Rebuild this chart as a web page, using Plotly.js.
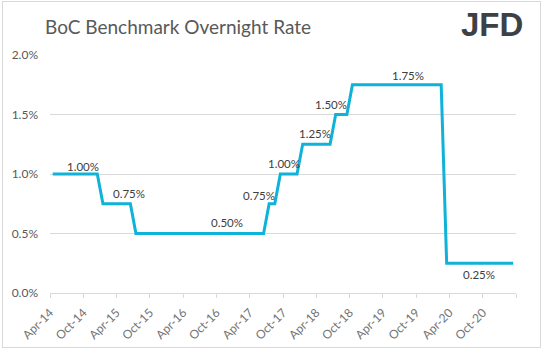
<!DOCTYPE html>
<html>
<head>
<meta charset="utf-8">
<script src="https://cdn.plot.ly/plotly-3.0.1.min.js"></script>
<style>
  html, body { margin: 0; padding: 0; background: #ffffff; }
  #wrap { position: relative; width: 544px; height: 351px; }
  #chart { width: 544px; height: 351px; }
  #frame { position: absolute; left: 2px; top: 1px; width: 537px; height: 345px;
           border: 1px solid #d9d9d9; pointer-events: none; }
</style>
</head>
<body>
<div id="wrap"><div id="chart"></div><div id="frame"></div></div>
<script>
// ---- data (monthly, month-end policy rate, %) ----
const months = [
  '2014-04','2014-05','2014-06','2014-07','2014-08','2014-09','2014-10','2014-11','2014-12',
  '2015-01','2015-02','2015-03','2015-04','2015-05','2015-06','2015-07','2015-08','2015-09','2015-10','2015-11','2015-12',
  '2016-01','2016-02','2016-03','2016-04','2016-05','2016-06','2016-07','2016-08','2016-09','2016-10','2016-11','2016-12',
  '2017-01','2017-02','2017-03','2017-04','2017-05','2017-06','2017-07','2017-08','2017-09','2017-10','2017-11','2017-12',
  '2018-01','2018-02','2018-03','2018-04','2018-05','2018-06','2018-07','2018-08','2018-09','2018-10','2018-11','2018-12',
  '2019-01','2019-02','2019-03','2019-04','2019-05','2019-06','2019-07','2019-08','2019-09','2019-10','2019-11','2019-12',
  '2020-01','2020-02','2020-03','2020-04','2020-05','2020-06','2020-07','2020-08','2020-09','2020-10','2020-11','2020-12',
  '2021-01','2021-02','2021-03'
];
const rates = [
  1.00,1.00,1.00,1.00,1.00,1.00,1.00,1.00,1.00,
  0.75,0.75,0.75,0.75,0.75,0.75,0.50,0.50,0.50,0.50,0.50,0.50,
  0.50,0.50,0.50,0.50,0.50,0.50,0.50,0.50,0.50,0.50,0.50,0.50,
  0.50,0.50,0.50,0.50,0.50,0.50,0.75,0.75,1.00,1.00,1.00,1.00,
  1.25,1.25,1.25,1.25,1.25,1.25,1.50,1.50,1.50,1.75,1.75,1.75,
  1.75,1.75,1.75,1.75,1.75,1.75,1.75,1.75,1.75,1.75,1.75,1.75,
  1.75,1.75,0.25,0.25,0.25,0.25,0.25,0.25,0.25,0.25,0.25,0.25,
  0.25,0.25,0.25
];
const tickDates = ['2014-04-01','2014-10-01','2015-04-01','2015-10-01','2016-04-01','2016-10-01',
  '2017-04-01','2017-10-01','2018-04-01','2018-10-01','2019-04-01','2019-10-01','2020-04-01','2020-10-01','2021-04-01'];
const tickLabels = ['Apr-14','Oct-14','Apr-15','Oct-15','Apr-16','Oct-16','Apr-17','Oct-17',
  'Apr-18','Oct-18','Apr-19','Oct-19','Apr-20','Oct-20',''];
const yTicks = [0, 0.5, 1.0, 1.5, 2.0];
// months whose value carries a data label
const labelMonths = ['2014-12','2015-06','2016-11','2017-08','2017-12','2018-06','2018-09','2019-08','2020-09'];

// ---- label placement (pixel shifts from the point) ----
const labelShift = [
  [-14, 8], [-1, 10], [2, 11.5], [-16, 8], [-13, 10.5], [-15, 10.5], [-15.5, 10.5], [0, 9.5], [-1, -11.5]
];

const TXT = '#595959';
const GRID = '#d9d9d9';
const FONT = 'Lato, "Liberation Sans", sans-serif';

function midMonth(s) {
  const p = s.split('-').map(Number);
  return (Date.UTC(p[0], p[1] - 1, 1) + Date.UTC(p[0], p[1], 1)) / 2;
}

const annotations = labelMonths.map((m, k) => {
  const v = rates[months.indexOf(m)];
  return {
    x: midMonth(m), y: v, xref: 'x', yref: 'y',
    text: v.toFixed(2) + '%', showarrow: false,
    xanchor: 'center', yanchor: 'middle',
    xshift: labelShift[k][0], yshift: labelShift[k][1],
    font: { family: FONT, size: 11.5, color: '#404040' }
  };
});

// JFD logo
annotations.push({
  xref: 'paper', yref: 'paper', x: (491.5 - 50) / 466, y: 1 + (55 - 24.5) / 238,
  xanchor: 'center', yanchor: 'middle', showarrow: false,
  text: '<b>JFD</b>',
  font: { family: '"Liberation Sans", Arial, sans-serif', size: 33, color: '#3c4146' }
});

const trace = {
  type: 'scatter', mode: 'lines',
  x: months, y: rates,
  xperiod: 'M1', xperiodalignment: 'middle',
  line: { color: '#0fb2d8', width: 3 },
  hoverinfo: 'skip'
};

const layout = {
  width: 544, height: 351,
  margin: { l: 50, r: 28, t: 55, b: 58 },
  paper_bgcolor: '#ffffff', plot_bgcolor: '#ffffff',
  showlegend: false,
  title: {
    text: 'BoC Benchmark Overnight Rate',
    font: { family: FONT, size: 19, color: TXT },
    xref: 'container', yref: 'container',
    x: 45 / 544, xanchor: 'left',
    y: 1 - 27.5 / 351, yanchor: 'middle'
  },
  xaxis: {
    type: 'date',
    range: ['2014-04-01', '2021-04-01'],
    tickmode: 'array', tickvals: tickDates, ticktext: tickLabels,
    tickangle: -45,
    ticks: 'outside', ticklen: 4, tickcolor: GRID, tickwidth: 1,
    ticklabelstandoff: 3,
    showgrid: false, zeroline: false,
    showline: true, linecolor: GRID, linewidth: 1,
    tickfont: { family: FONT, size: 12, color: '#737373' },
    fixedrange: true
  },
  yaxis: {
    range: [0, 2.0],
    tickmode: 'array', tickvals: yTicks,
    ticktext: yTicks.map(v => v.toFixed(1) + '%'),
    ticks: '', showline: false, zeroline: false,
    showgrid: true, gridcolor: GRID, gridwidth: 1,
    ticklabelstandoff: 11,
    tickfont: { family: FONT, size: 12, color: TXT },
    fixedrange: true
  },
  annotations: annotations
};

Plotly.newPlot('chart', [trace], layout, { staticPlot: true, displayModeBar: false });
</script>
</body>
</html>
